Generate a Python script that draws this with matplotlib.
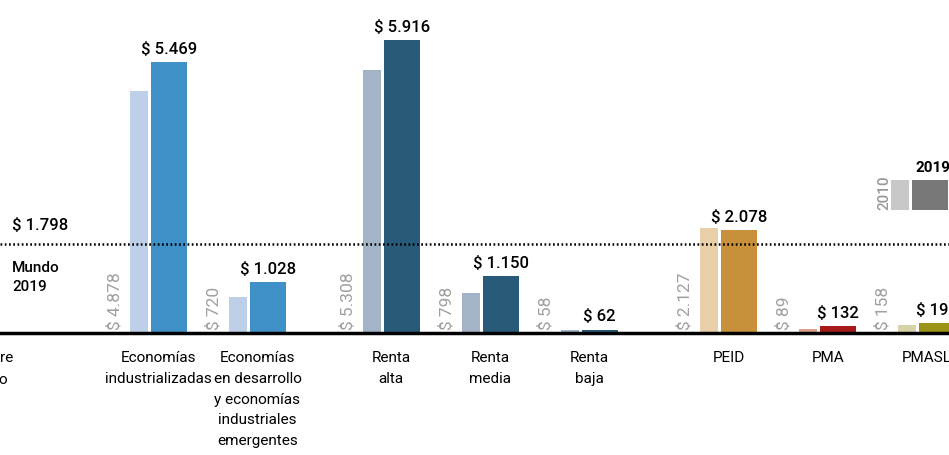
import matplotlib.pyplot as plt

plt.rcParams['font.family'] = ['Roboto', 'DejaVu Sans']

# data
categories = ['Economías\nindustrializadas',
              'Economías\nen desarrollo\ny economías\nindustriales\nemergentes',
              'Renta\nalta', 'Renta\nmedia', 'Renta\nbaja',
              'PEID', 'PMA', 'PMASL']
positions = [0, 1, 2.35, 3.35, 4.35, 5.76, 6.76, 7.76]
vals_2010 = [4878, 720, 5308, 798, 58, 2127, 89, 158]
vals_2019 = [5469, 1028, 5916, 1150, 62, 2078, 132, 198]
labels_2010 = ['$ 4.878', '$ 720', '$ 5.308', '$ 798', '$ 58', '$ 2.127', '$ 89', '$ 158']
labels_2019 = ['$ 5.469', '$ 1.028', '$ 5.916', '$ 1.150', '$ 62', '$ 2.078', '$ 132', '$ 198']
world_2019 = 1798

colors_2010 = ['#bed0e8', '#bed0e8', '#a3b3c8', '#a3b3c8', '#a3b3c8', '#e8cfa8', '#dba08a', '#d8d2a8']
colors_2019 = ['#4090c8', '#4090c8', '#285a7a', '#285a7a', '#285a7a', '#c8903a', '#a8191a', '#9a9318']

fig = plt.figure(figsize=(9.49, 4.55), dpi=100)
ax = fig.add_axes([0, 0, 1, 1])
ax.set_xlim(-1.601, 7.985)
ax.set_ylim(-2463, 6724)
ax.axis('off')

w1, w2 = 0.182, 0.364
x1 = [p - 0.197 for p in positions]
x2 = [p + 0.106 for p in positions]
ax.bar(x1, vals_2010, width=w1, color=colors_2010, zorder=2)
ax.bar(x2, vals_2019, width=w2, color=colors_2019, zorder=2)

for p, v, lab in zip(x2, vals_2019, labels_2019):
    ax.text(p, v + 110, lab, ha='center', va='bottom', fontsize=12,
            fontweight='medium', color='black')
for p, lab in zip(positions, labels_2010):
    ax.text(p - 0.44, 60, lab, ha='center', va='bottom', rotation=90,
            fontsize=12.5, color='#a0a0a0')

for p, cat in zip(positions, categories):
    ax.text(p, -370, cat, ha='center', va='top', fontsize=11, linespacing=1.6)

# partial label at left edge
ax.text(-1.47, -370, 're', ha='right', va='top', fontsize=11)
ax.text(-1.53, -810, 'o', ha='right', va='top', fontsize=11)

ax.axhline(0, color='black', lw=2.5, zorder=3)
ax.axhline(world_2019, color='black', lw=1.8, ls=(0, (0.7, 1.0)), zorder=4)
ax.text(-1.48, world_2019 + 220, '$ 1.798', ha='left', va='bottom', fontsize=12,
        fontweight='medium')
ax.text(-1.48, world_2019 - 350, 'Mundo\n2019', ha='left', va='top', fontsize=11,
        fontweight='medium', linespacing=1.45)

# legend drawn as mini bars
lx = positions[-1]
ax.bar(lx - 0.27, 605, bottom=2482, width=w1, color='#c8c8c8')
ax.bar(lx + 0.036, 605, bottom=2482, width=w2, color='#787878')
ax.text(lx - 0.43, 2482, '2010', rotation=90, ha='center', va='bottom',
        fontsize=11, fontweight='medium', color='#999999')
ax.text(lx + 0.06, 3200, '2019', ha='center', va='bottom', fontsize=11,
        fontweight='bold')

fig.savefig('out.png', dpi=100)
